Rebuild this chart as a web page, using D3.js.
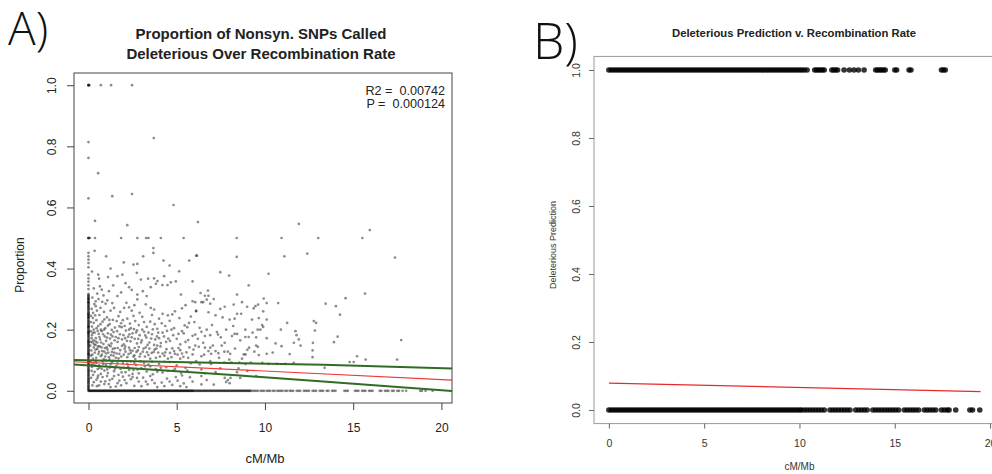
<!DOCTYPE html>
<html>
<head>
<meta charset="utf-8">
<script src="https://cdn.jsdelivr.net/npm/d3@7"></script>
<style>
  body { margin: 0; background: #fff; }
  svg { display: block; font-family: "Liberation Sans", Arial, Helvetica, sans-serif; }
  .panel-label { font-family: "Open Sans", "Lato", "DejaVu Sans", sans-serif; font-weight: 300; }
</style>
</head>
<body>
<div id="d3"></div>
<script>
// ---- panel A data ----
const ticksX = [0, 5, 10, 15, 20];
const ticksY = [0, 0.2, 0.4, 0.6, 0.8, 1.0];

// SNP proportions sitting exactly at 0 (x = cM/Mb)
const zeroRowX = [0,0.035,0.07,0.105,0.14,0.175,0.21,0.245,0.28,0.315,0.35,0.385,0.42,0.455,0.49,0.525,0.56,0.595,0.63,0.665,0.7,0.735,0.77,0.805,0.84,0.875,0.91,0.945,0.98,1.015,1.05,1.085,1.12,1.155,1.19,1.225,1.26,1.295,1.33,1.365,1.4,1.435,1.47,1.505,1.54,1.575,1.61,1.645,1.68,1.715,1.75,1.785,1.82,1.855,1.89,1.925,1.96,1.995,
  2.03,2.065,2.1,2.135,2.17,2.205,2.24,2.275,2.31,2.345,2.38,2.415,2.45,2.485,2.52,2.555,2.59,2.625,2.66,2.695,2.73,2.765,2.8,2.835,2.87,2.905,2.94,2.975,3.01,3.045,3.08,3.115,3.15,3.185,3.22,3.255,3.29,3.325,3.36,3.395,3.43,3.465,3.5,3.535,3.57,3.605,3.64,3.675,3.71,3.745,3.78,3.815,3.85,3.885,3.92,3.955,3.99,
  4.025,4.06,4.095,4.13,4.165,4.2,4.235,4.27,4.305,4.34,4.375,4.41,4.445,4.48,4.515,4.55,4.585,4.62,4.655,4.69,4.725,4.76,4.795,4.83,4.865,4.9,4.935,4.97,5.005,5.04,5.075,5.11,5.145,5.18,5.215,5.25,5.285,5.32,5.355,5.39,5.425,5.46,5.495,5.53,5.565,5.6,5.635,5.67,5.705,5.74,5.775,5.81,5.845,5.88,5.915,5.95,5.985,
  6.05,6.1,6.15,6.2,6.25,6.3,6.35,6.4,6.45,6.5,6.55,6.6,6.65,6.7,6.75,6.8,6.85,6.9,6.95,7.0,7.05,7.1,7.15,7.2,7.25,7.3,7.35,7.4,7.45,7.5,7.55,7.6,7.65,7.7,7.75,7.8,7.85,7.9,7.95,8.0,8.05,8.1,8.15,8.2,8.25,8.3,8.35,8.4,8.45,8.5,8.55,8.6,8.65,8.7,8.75,8.8,8.85,8.9,8.95,9.0,9.05,9.1,9.15,9.2,
  9.3,9.4,9.5,9.6,9.75,9.85,9.95,10.1,10.2,10.3,10.45,10.55,10.7,10.8,10.9,11.0,11.15,11.25,11.4,11.5,11.6,11.8,11.9,12.0,12.2,12.3,12.4,12.5,12.7,12.8,12.9,13.1,13.2,13.3,13.5,13.6,13.8,13.9,14.0,
  14.5,14.6,14.7,15.1,15.2,15.3,15.5,15.6,15.7,15.9,16.0,16.1,16.5,16.6,16.8,16.9,17.0,17.2,17.3,17.5,17.6,17.8,18.0,18.8,18.9,19.1,19.5];

// SNP proportions for regions with recombination rate 0
const zeroColY = [0.003,0.006,0.009,0.012,0.015,0.018,0.022,0.025,0.028,0.031,0.034,0.037,0.04,0.043,0.047,0.05,0.053,0.056,0.059,0.062,0.065,0.068,0.07,0.074,0.078,0.081,0.084,0.087,0.09,0.093,0.096,0.099,0.1,0.105,0.108,0.112,0.115,0.118,0.12,0.121,0.124,0.127,0.13,0.133,0.136,0.14,0.143,0.146,0.149,0.152,0.155,0.158,0.16,0.161,0.164,0.167,0.17,0.174,0.177,0.18,0.183,0.186,0.189,0.19,0.192,0.195,0.198,
  0.202,0.205,0.208,0.21,0.211,0.214,0.217,0.22,0.223,0.226,0.229,0.232,0.236,0.239,0.24,0.242,0.245,0.248,0.25,0.251,0.254,0.257,0.26,0.264,0.267,0.27,0.273,0.276,0.279,0.282,0.285,0.288,0.29,0.291,0.294,0.298,0.3,0.301,0.304,0.307,0.31,0.313,0.317,
  0.333,0.345,0.357,0.368,0.38,0.404,0.418,0.429,0.44,0.451,0.5,0.5,0.5,1,1,1];

// remaining points [cM/Mb, proportion]
const cloud = [
  [0.05,1],[0.7,1],[1.28,1],[2.47,1],
  [0,0.814],[3.7,0.827],[0,0.762],[0.55,0.712],[0,0.63],[1.35,0.637],[2.47,0.644],[4.82,0.608],[0.37,0.556],[2.2,0.542],[6.2,0.552],[11.92,0.546],[15.94,0.526],
  [0.08,0.5],[0.37,0.5],[1.85,0.5],[2.77,0.5],[3.27,0.5],[3.4,0.5],[4.1,0.5],[5.39,0.5],[8.4,0.5],[10.94,0.5],[13.02,0.5],[15.52,0.5],
  [0.35,0.458],[3.68,0.467],[3.68,0.451],[4.25,0.426],[5.71,0.426],[2.55,0.413],[2.77,0.415],[6.15,0.442],[2.74,0.386],[1.92,0.38],[1.64,0.375],[1.11,0.372],[0.6,0.367],[2.97,0.364],[3.38,0.367],[3.72,0.368],[3.91,0.359],[4.29,0.375],[4.67,0.355],[4.95,0.358],[5.14,0.391],[5.9,0.358],
  [0.65,0.342],[0.75,0.331],[1.16,0.326],[2.3,0.339],[3.08,0.326],[3.53,0.339],[3.82,0.35],[4.19,0.346],[4.48,0.346],[5.24,0.315],[5.9,0.293],[2.77,0.315],[2.77,0.299],[1.64,0.31],[1.07,0.296],[0.78,0.291],[0.41,0.293],[0.41,0.277],[1.35,0.287],[2.02,0.271],[2.3,0.273],[2.6,0.28],[3.53,0.271],[3.72,0.266],[4.2,0.252],[4.5,0.247],[4.9,0.26],[5.3,0.27],[5.8,0.243],[6.1,0.262],
  [0.22,0.305],[0.5,0.318],[0.85,0.312],[1.4,0.345],[1.85,0.322],[2.1,0.352],[2.45,0.33],[3.3,0.31],[0.3,0.335],[0.55,0.38],[1.25,0.4],[2.0,0.42],[1.0,0.44],[0.2,0.39],[3.1,0.44],[4.6,0.41],
  [0.15,0.245],[0.25,0.238],[0.3,0.222],[0.45,0.231],[0.55,0.212],[0.62,0.248],[0.8,0.226],[0.95,0.205],[1.05,0.24],[1.2,0.218],[1.38,0.232],[1.5,0.207],[1.7,0.244],[1.85,0.221],[2.05,0.212],[2.2,0.236],[2.4,0.205],[2.65,0.228],[2.85,0.215],[3.05,0.242],[3.3,0.209],[3.5,0.226],[3.75,0.218],[4.0,0.236],[4.35,0.212],[4.6,0.229],[4.85,0.205],[5.15,0.238],[5.45,0.214],[5.7,0.222],[0.2,0.21],[0.7,0.2],[1.6,0.228],[2.55,0.245],[3.9,0.203],
  [0.12,0.195],[0.2,0.182],[0.28,0.165],[0.35,0.19],[0.42,0.172],[0.5,0.158],[0.58,0.186],[0.66,0.168],[0.75,0.195],[0.85,0.153],[0.92,0.178],[1.0,0.163],[1.1,0.188],[1.22,0.171],[1.3,0.155],[1.42,0.192],[1.55,0.176],[1.65,0.16],[1.78,0.185],[1.9,0.168],[2.0,0.152],[2.12,0.197],[2.25,0.177],[2.38,0.162],[2.5,0.188],[2.62,0.17],[2.75,0.155],[2.9,0.182],[3.02,0.165],[3.15,0.193],[3.28,0.174],[3.45,0.158],[3.6,0.185],[3.78,0.168],[3.95,0.19],[4.1,0.156],[4.28,0.178],[4.45,0.196],[4.62,0.163],[4.8,0.182],[5.0,0.17],[5.2,0.152],[5.4,0.188],[5.65,0.166],[5.9,0.18],[0.3,0.2],[1.15,0.15],[2.3,0.2],[3.35,0.15],
  [0.24,0.19],[0.46,0.205],[0.68,0.218],[0.88,0.2],[1.18,0.232],[1.36,0.178],[1.62,0.195],[1.88,0.208],[2.08,0.172],[2.32,0.185],[2.58,0.202],[2.82,0.17],[3.05,0.2],[3.4,0.19],[3.72,0.15],[4.0,0.172],[4.4,0.16],[4.7,0.2],
  [0.1,0.148],[0.16,0.132],[0.22,0.118],[0.3,0.142],[0.36,0.125],[0.44,0.108],[0.5,0.137],[0.56,0.12],[0.63,0.145],[0.7,0.113],[0.78,0.13],[0.86,0.104],[0.93,0.14],[1.0,0.122],[1.08,0.135],[1.16,0.11],[1.25,0.146],[1.33,0.127],[1.42,0.115],[1.5,0.139],[1.6,0.122],[1.7,0.106],[1.8,0.133],[1.9,0.147],[2.0,0.118],[2.1,0.128],[2.2,0.11],[2.3,0.141],[2.4,0.124],[2.5,0.131],[2.6,0.116],[2.72,0.127],[2.85,0.143],[2.95,0.121],[3.08,0.128],[3.2,0.112],[3.32,0.126],[3.45,0.138],[3.58,0.124],[3.7,0.127],[3.82,0.108],[3.95,0.125],[4.08,0.145],[4.2,0.122],[4.35,0.126],[4.5,0.105],[4.62,0.124],[4.75,0.139],[4.9,0.121],[5.05,0.118],[5.2,0.133],[5.38,0.111],[5.55,0.126],[5.72,0.142],[5.9,0.119],[0.4,0.15],[1.2,0.102],[2.65,0.104],[3.9,0.148],
  [0.14,0.16],[0.32,0.152],[0.54,0.145],[0.76,0.118],[0.9,0.128],[1.04,0.142],[1.28,0.117],[1.46,0.125],[1.66,0.14],[1.86,0.112],[2.08,0.145],[2.36,0.133],[2.62,0.14],[2.9,0.112],[3.25,0.142],[3.5,0.105],[3.85,0.138],[4.3,0.115],[4.7,0.11],[5.1,0.14],
  [0.12,0.095],[0.2,0.078],[0.28,0.088],[0.35,0.062],[0.45,0.092],[0.52,0.071],[0.6,0.083],[0.7,0.055],[0.8,0.097],[0.9,0.066],[1.0,0.085],[1.1,0.058],[1.2,0.076],[1.32,0.093],[1.45,0.064],[1.58,0.081],[1.7,0.052],[1.82,0.072],[1.95,0.09],[2.1,0.061],[2.25,0.079],[2.4,0.096],[2.55,0.068],[2.7,0.084],[2.85,0.057],[3.0,0.074],[3.15,0.091],[3.3,0.063],[3.5,0.08],[3.65,0.054],[3.82,0.071],[4.0,0.088],[4.2,0.06],[4.4,0.077],[4.6,0.094],[4.8,0.066],[5.0,0.083],[5.25,0.058],[5.5,0.075],[5.8,0.09],
  [0.16,0.085],[0.38,0.098],[0.62,0.075],[0.84,0.088],[1.06,0.07],[1.4,0.098],[1.64,0.09],[2.0,0.075],[2.3,0.068],[2.6,0.092],[2.78,0.07],[3.2,0.08],[3.6,0.095],[4.1,0.075],[4.5,0.065],
  [0.15,0.042],[0.3,0.028],[0.45,0.036],[0.6,0.018],[0.8,0.045],[0.95,0.031],[1.15,0.022],[1.35,0.039],[1.55,0.014],[1.75,0.033],[1.95,0.046],[2.15,0.025],[2.4,0.038],[2.6,0.016],[2.85,0.03],[3.1,0.043],[3.35,0.021],[3.6,0.035],[3.9,0.012],[4.15,0.027],[4.45,0.04],[4.75,0.019],[5.05,0.033],[5.4,0.024],[5.75,0.044],
  [0.26,0.052],[0.48,0.015],[0.9,0.022],[1.2,0.035],[1.45,0.048],[1.85,0.018],[2.3,0.05],[2.75,0.042],[3.25,0.03],[3.75,0.025],[4.6,0.03],[5.2,0.015],
  [0.18,0.268],[0.26,0.255],[0.33,0.284],[0.48,0.262],[0.57,0.3],[0.68,0.271],[0.88,0.258],[0.97,0.285],[1.25,0.262],[1.45,0.271],[1.8,0.258],[2.15,0.288],[2.45,0.262],[2.9,0.255],[3.25,0.283],[3.6,0.248],
  [0.14,0.225],[0.38,0.247],[0.52,0.196],[0.9,0.234],[1.1,0.213],[1.32,0.199],[1.75,0.211],[1.95,0.231],[2.35,0.22],[2.75,0.198],[3.15,0.225],[3.65,0.201],[4.15,0.221],[4.75,0.25],
  [0.17,0.172],[0.24,0.158],[0.4,0.162],[0.62,0.176],[0.72,0.158],[0.83,0.185],[1.05,0.174],[1.27,0.184],[1.48,0.165],[1.7,0.172],[1.98,0.182],[2.18,0.163],[2.45,0.175],[2.7,0.191],[2.98,0.158],[3.22,0.181],[3.55,0.171],[3.88,0.178],[4.2,0.19],[4.52,0.171],[5.1,0.186],[5.5,0.16],
  [0.13,0.115],[0.25,0.105],[0.4,0.135],[0.6,0.128],[0.74,0.142],[0.95,0.112],[1.12,0.125],[1.38,0.137],[1.55,0.108],[1.75,0.121],[2.05,0.137],[2.27,0.12],[2.55,0.112],[2.8,0.132],[3.12,0.138],[3.4,0.117],[3.75,0.135],[4.05,0.112],[4.42,0.136],[4.85,0.13],[5.3,0.122],[5.65,0.108],
  [0.18,0.065],[0.4,0.082],[0.55,0.05],[0.75,0.072],[0.98,0.1],[1.25,0.086],[1.5,0.072],[1.88,0.06],[2.2,0.088],[2.5,0.055],[2.95,0.096],[3.4,0.086],[3.9,0.062],[4.3,0.095],[4.9,0.072],[5.6,0.066],
  [0.22,0.018],[0.52,0.043],[0.7,0.03],[1.05,0.048],[1.25,0.012],[1.65,0.025],[2.05,0.035],[2.5,0.045],[3.0,0.015],[3.5,0.048],[4.3,0.015],[4.95,0.045],[5.55,0.012],
  [5.3,0.195],[5.6,0.208],[6.0,0.225],[6.2,0.17],[6.7,0.2],[7.0,0.215],[7.5,0.175],[7.8,0.2],[8.2,0.212],[8.6,0.165],[9.3,0.19],[7.6,0.24],[5.5,0.28],[6.35,0.32],[7.1,0.3],[8.7,0.29],[5.2,0.105],[5.95,0.135],[6.55,0.118],[7.4,0.108],[7.55,0.148],[8.3,0.138],[8.7,0.105],[9.4,0.128],[10.6,0.155],[11.4,0.12],[10.9,0.2],[9.9,0.26],[5.3,0.05],[5.9,0.03],[6.7,0.035],[7.1,0.02],[9.0,0.065],[9.5,0.048],
  [6.1,0.442],[8.4,0.438],[11.1,0.44],[12.4,0.449],[7.47,0.388],[7.97,0.377],[10.2,0.383],[9.08,0.345],[6.77,0.328],[6.6,0.311],[6.8,0.311],[8.42,0.315],[9.93,0.302],[10.1,0.287],[10.75,0.287],[6.05,0.29],[6.4,0.29],[6.5,0.29],[6.7,0.298],[6.9,0.285],
  [7.47,0.268],[7.72,0.275],[8.23,0.282],[8.99,0.275],[9.36,0.27],[9.46,0.277],[9.61,0.282],[6.1,0.26],[6.8,0.257],[7.2,0.247],[8.0,0.233],[8.28,0.236],[8.42,0.252],[8.65,0.252],[9.27,0.233],[9.65,0.238],[10.1,0.233],[9.84,0.215],[9.9,0.209],[11.26,0.222],[12.77,0.228],[12.9,0.222],
  [6.3,0.206],[6.4,0.193],[6.05,0.184],[6.9,0.182],[6.6,0.179],[7.28,0.192],[7.34,0.184],[7.72,0.157],[8.13,0.179],[8.28,0.186],[8.42,0.186],[8.89,0.2],[8.89,0.176],[9.08,0.176],[9.5,0.175],[9.59,0.2],[9.74,0.2],[10.1,0.172],[11.73,0.195],[11.79,0.182],[11.92,0.168],[12.02,0.148],[11.64,0.157],[10.94,0.146],[12.72,0.157],[12.83,0.197],[12.7,0.132],[12.7,0.11],
  [6.05,0.148],[6.25,0.144],[6.5,0.157],[6.6,0.141],[6.9,0.141],[7.05,0.148],[6.8,0.13],[6.95,0.121],[7.2,0.13],[7.36,0.123],[7.7,0.128],[7.9,0.128],[8.03,0.121],[8.8,0.119],[8.9,0.119],[9.0,0.134],[9.1,0.141],[9.5,0.148],[9.6,0.144],[9.65,0.117],[10.1,0.121],[10.44,0.125],
  [6.4,0.113],[6.3,0.086],[6.1,0.097],[6.9,0.097],[6.95,0.088],[7.7,0.092],[7.98,0.102],[8.1,0.092],[8.55,0.092],[8.9,0.088],[9.2,0.092],[9.85,0.091],[10.2,0.088],[10.68,0.088],[11.16,0.088],[11.63,0.091],
  [6.4,0.07],[6.6,0.057],[7.47,0.073],[7.2,0.061],[7.72,0.042],[7.8,0.029],[7.9,0.035],[8.05,0.042],[8.42,0.061],[8.5,0.073],[8.6,0.042],[8.0,0.025],[6.4,0.048],[6.4,0.021],
  [15.67,0.318],[14.57,0.303],[13.44,0.285],[14.02,0.277],[14.25,0.249],[14.12,0.177],[13.91,0.159],[17.72,0.166],[15.22,0.113],[14.8,0.094],[15.03,0.094],[15.71,0.102],[17.49,0.102],[13.38,0.075],[17.37,0.436]
];

// regression fit and confidence band
const fitX = [-0.82, 20.6];
const fitY = [0.095, 0.035];
const bandX = [-0.82, 6.28, 13.3, 20.6];
const bandUpper = [0.1005, 0.0925, 0.0855, 0.073];
const bandLower = [0.086, 0.059, 0.030, -0.001];

// ---- panel B data ----
const predOneX = [0,0.125,0.25,0.375,0.5,0.625,0.75,0.875,1,1.125,1.25,1.375,1.5,1.625,1.75,1.875,2,2.125,2.25,2.375,2.5,2.625,2.75,2.875,3,3.125,3.25,3.375,3.5,3.625,3.75,3.875,4,4.125,4.25,4.375,4.5,4.625,4.75,4.875,5,
  5.125,5.25,5.375,5.5,5.625,5.75,5.875,6,6.125,6.25,6.375,6.5,6.625,6.75,6.875,7,7.125,7.25,7.375,7.5,7.625,7.75,7.875,8,8.125,8.25,8.375,8.5,8.625,8.75,8.875,9,9.125,9.25,9.375,9.5,9.625,9.75,9.875,10,10.125,10.25,10.4,
  10.8,10.9,11.0,11.1,11.2,11.3,11.7,11.8,11.9,12.0,12.34,12.62,12.86,13.09,13.39,14.0,14.1,14.2,14.3,14.4,14.5,15.0,15.1,15.75,15.85,17.45,17.55,17.65];
const predZeroX = [0,0.125,0.25,0.375,0.5,0.625,0.75,0.875,1,1.125,1.25,1.375,1.5,1.625,1.75,1.875,2,2.125,2.25,2.375,2.5,2.625,2.75,2.875,3,3.125,3.25,3.375,3.5,3.625,3.75,3.875,4,4.125,4.25,4.375,4.5,4.625,4.75,4.875,5,
  5.125,5.25,5.375,5.5,5.625,5.75,5.875,6,6.125,6.25,6.375,6.5,6.625,6.75,6.875,7,7.125,7.25,7.375,7.5,7.625,7.75,7.875,8,8.125,8.25,8.375,8.5,8.625,8.75,8.875,9,9.125,9.25,9.375,9.5,9.625,9.75,9.875,10,
  10.1,10.25,10.4,10.55,10.7,10.85,11.0,11.15,11.3,11.6,11.75,11.9,12.05,12.2,12.35,12.5,12.65,12.95,13.1,13.25,13.4,13.55,13.85,14.0,14.15,14.3,14.45,14.6,14.75,14.9,15.05,15.2,15.5,15.65,15.8,15.95,16.1,16.25,16.55,16.7,16.85,17.0,17.15,17.45,17.6,17.75,17.85,
  18.2,18.94,19.08,19.46];
const predFitX = [0, 19.5];
const predFitY = [0.079, 0.054];

// ---- drawing ----
const svg = d3.select("#d3").append("svg").attr("width", 992).attr("height", 474);
const fmt = d3.format(".1f");

// Panel A
const boxA = { left: 74, right: 452, top: 73, bottom: 403 };
const xA = d3.scaleLinear().domain([-0.82, 20.6]).range([boxA.left, boxA.right]);
const yA = d3.scaleLinear().domain([-0.04, 1.04]).range([boxA.bottom, boxA.top]);
const gA = svg.append("g");

const ptsA = gA.append("g").attr("fill", "#000").attr("fill-opacity", 0.45);
ptsA.selectAll(null).data(zeroRowX).join("circle")
  .attr("cx", (d) => xA(d)).attr("cy", yA(0)).attr("r", 1.35);
ptsA.selectAll(null).data(zeroColY).join("circle")
  .attr("cx", xA(0)).attr("cy", (d) => yA(d)).attr("r", 1.35);
ptsA.selectAll(null).data(cloud).join("circle")
  .attr("cx", (d) => xA(d[0])).attr("cy", (d) => yA(d[1])).attr("r", 1.35);

const lineA = d3.line().x((d) => xA(d[0])).y((d) => yA(d[1]));
gA.append("path").datum(d3.zip(fitX, fitY)).attr("d", lineA)
  .attr("fill", "none").attr("stroke", "#f03a3a").attr("stroke-width", 1.2);
const bandLine = d3.line().x((d) => xA(d[0])).y((d) => yA(d[1])).curve(d3.curveNatural);
gA.append("path").datum(d3.zip(bandX, bandUpper)).attr("d", bandLine)
  .attr("fill", "none").attr("stroke", "#2f6d22").attr("stroke-width", 2);
gA.append("path").datum(d3.zip(bandX, bandLower)).attr("d", bandLine)
  .attr("fill", "none").attr("stroke", "#2f6d22").attr("stroke-width", 2);

gA.append("rect")
  .attr("x", boxA.left).attr("y", boxA.top)
  .attr("width", boxA.right - boxA.left).attr("height", boxA.bottom - boxA.top)
  .attr("fill", "none").attr("stroke", "#444");

const axA = gA.append("g").attr("transform", `translate(0,${boxA.bottom})`)
  .call(d3.axisBottom(xA).tickValues(ticksX).tickSize(7).tickSizeOuter(0));
axA.select(".domain").remove();
axA.selectAll("line").attr("stroke", "#444");
axA.selectAll("text").attr("y", 20).attr("dy", "0.71em").attr("font-size", 12).attr("fill", "#222");
axA.attr("font-family", null).attr("font-size", null);

const ayA = gA.append("g").attr("transform", `translate(${boxA.left},0)`)
  .call(d3.axisLeft(yA).tickValues(ticksY).tickFormat(fmt).tickSize(7).tickSizeOuter(0));
ayA.select(".domain").remove();
ayA.selectAll("line").attr("stroke", "#444");
ayA.selectAll("text").attr("transform", "rotate(-90)").attr("x", 0).attr("y", -18).attr("dy", 0)
  .attr("text-anchor", "middle").attr("font-size", 12).attr("fill", "#222");
ayA.attr("font-family", null).attr("font-size", null);

gA.append("text").attr("x", 261).attr("y", 38.5).attr("text-anchor", "middle")
  .attr("font-size", 15).attr("font-weight", "bold").attr("fill", "#222")
  .text("Proportion of Nonsyn. SNPs Called");
gA.append("text").attr("x", 261).attr("y", 58.5).attr("text-anchor", "middle")
  .attr("font-size", 15).attr("font-weight", "bold").attr("fill", "#222")
  .text("Deleterious Over Recombination Rate");
gA.append("text").attr("x", 445).attr("y", 94.5).attr("text-anchor", "end")
  .attr("font-size", 12.6).attr("fill", "#222").text("R2 =\u00a0\u00a00.00742");
gA.append("text").attr("x", 445).attr("y", 108).attr("text-anchor", "end")
  .attr("font-size", 12.6).attr("fill", "#222").text("P =\u00a0\u00a00.000124");
gA.append("text").attr("x", xA(10)).attr("y", 463).attr("text-anchor", "middle")
  .attr("font-size", 13).attr("fill", "#222").text("cM/Mb");
gA.append("text").attr("transform", "translate(24,265) rotate(-90)")
  .attr("text-anchor", "middle").attr("font-size", 12).attr("fill", "#222").text("Proportion");
gA.append("text").attr("class", "panel-label").attr("x", 8).attr("y", 45)
  .attr("font-size", 46).attr("fill", "#111").text("A)");

// Panel B
const boxB = { left: 594, right: 995.4, top: 56.4, bottom: 423.6 };
const xB = d3.scaleLinear().domain([-0.78, 20.28]).range([boxB.left, boxB.right]);
const yB = d3.scaleLinear().domain([-0.04, 1.04]).range([boxB.bottom, boxB.top]);
const gB = svg.append("g");

gB.append("rect")
  .attr("x", boxB.left).attr("y", boxB.top)
  .attr("width", boxB.right - boxB.left).attr("height", boxB.bottom - boxB.top)
  .attr("fill", "none").attr("stroke", "#999");

const ptsB = gB.append("g").attr("fill", "#000").attr("fill-opacity", 0.8);
ptsB.selectAll(null).data(predOneX).join("circle")
  .attr("cx", (d) => xB(d)).attr("cy", yB(1)).attr("r", 2.8);
ptsB.selectAll(null).data(predZeroX).join("circle")
  .attr("cx", (d) => xB(d)).attr("cy", yB(0)).attr("r", 2.8);

gB.append("path").datum(d3.zip(predFitX, predFitY))
  .attr("d", d3.line().x((d) => xB(d[0])).y((d) => yB(d[1])))
  .attr("fill", "none").attr("stroke", "#e8292b").attr("stroke-width", 1.2);

const axB = gB.append("g").attr("transform", `translate(0,${boxB.bottom})`)
  .call(d3.axisBottom(xB).tickValues(ticksX).tickSize(5).tickSizeOuter(0));
axB.select(".domain").remove();
axB.selectAll("line").attr("stroke", "#666");
axB.selectAll("text").attr("y", 15.5).attr("dy", "0.71em").attr("font-size", 10.5).attr("fill", "#333");
axB.attr("font-family", null).attr("font-size", null);

const ayB = gB.append("g").attr("transform", `translate(${boxB.left},0)`)
  .call(d3.axisLeft(yB).tickValues(ticksY).tickFormat(fmt).tickSize(5).tickSizeOuter(0));
ayB.select(".domain").remove();
ayB.selectAll("line").attr("stroke", "#666");
ayB.selectAll("text").attr("transform", "rotate(-90)").attr("x", 0).attr("y", -14).attr("dy", 0)
  .attr("text-anchor", "middle").attr("font-size", 10.5).attr("fill", "#333");
ayB.attr("font-family", null).attr("font-size", null);

gB.append("text").attr("x", 794).attr("y", 37).attr("text-anchor", "middle")
  .attr("font-size", 11.3).attr("font-weight", "bold").attr("fill", "#222")
  .text("Deleterious Prediction v. Recombination Rate");
gB.append("text").attr("x", xB(10)).attr("y", 470).attr("text-anchor", "middle")
  .attr("font-size", 10).attr("fill", "#333").text("cM/Mb");
gB.append("text").attr("transform", "translate(556,245) rotate(-90)")
  .attr("text-anchor", "middle").attr("font-size", 9).attr("fill", "#333").text("Deleterious Prediction");
gB.append("text").attr("class", "panel-label").attr("x", 533).attr("y", 59)
  .attr("font-size", 50).attr("fill", "#111").text("B)");
</script>
</body>
</html>
